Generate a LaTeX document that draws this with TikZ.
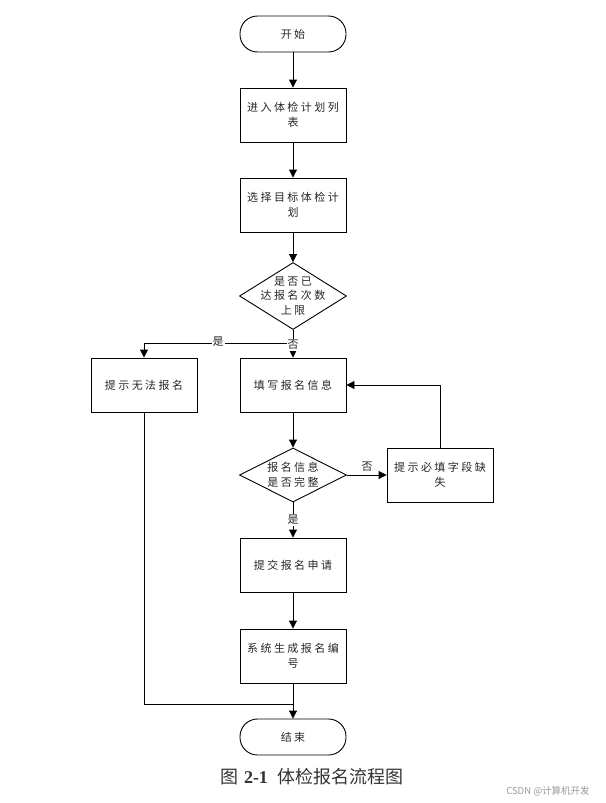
\documentclass[tikz,border=0pt]{standalone}
\usepackage{fontspec}
\setmainfont{Liberation Serif}
\newfontfamily\cjk[LetterSpace=22]{Noto Sans CJK SC}
\newfontfamily\cjkcap{Noto Sans CJK SC}
\usetikzlibrary{arrows.meta,shapes.geometric}
\begin{document}
\begin{tikzpicture}[x=1pt,y=-1pt,
  every node/.style={font=\cjk\fontsize{11}{14.5}\selectfont, text=black!85},
  box/.style={draw, line width=0.9pt, minimum width=106, minimum height=54, inner sep=0, align=center},
  term/.style={draw, line width=0.9pt, minimum width=106, minimum height=36, inner sep=0, rounded corners=17.5},
  dia/.style={draw, diamond, line width=0.9pt, minimum width=107, minimum height=67, inner sep=0},
  lbl/.style={align=center, inner sep=0},
  yn/.style={fill=white, inner sep=1pt},
  line/.style={line width=0.9pt},
  arr/.style={line width=0.9pt, -{Triangle[length=8pt,width=8pt]}}]
\useasboundingbox (0,0) rectangle (605,803);
\node[term] (start) at (293,34) {开始};
\node[box] (b1) at (293,115) {进入体检计划列\\表};
\node[box] (b2) at (293,205) {选择目标体检计\\划};
\node[dia] (d1) at (293,296) {};
\node[lbl] (d1t) at (293,296) {是否已\\达报名次数\\上限};
\node[box] (left) at (144,385) {提示无法报名};
\node[box] (fill) at (293,385) {填写报名信息};
\node[dia, minimum height=54] (d2) at (293,475) {};
\node[lbl] (d2t) at (293,475) {报名信息\\是否完整};
\node[box] (miss) at (440,475) {提示必填字段缺\\失};
\node[box] (b3) at (293,565) {提交报名申请};
\node[box] (b4) at (293,656) {系统生成报名编\\号};
\node[term] (end) at (293,737) {结束};
\coordinate (j1) at (293,343);
\coordinate (j2) at (293,704);

\draw[arr] (start) -- (b1);
\draw[arr] (b1) -- (b2);
\draw[arr] (b2) -- (d1);
\draw[line] (d1.south) -- (j1);
\draw[arr] (j1) -| (left.north);
\draw[arr] (j1) -- (fill.north);
\node[yn] (no1) at (293,345) {否};
\node[yn] (yes1) at (218,342) {是};
\draw[arr] (fill) -- (d2);
\draw[arr] (d2.east) -- (miss.west);
\node[inner sep=0] (no2) at (367,467) {否};
\draw[arr] (miss.north) |- (fill.east);
\draw[arr] (d2.south) -- (b3.north);
\node[yn] (yes2) at (293,520) {是};
\draw[arr] (b3) -- (b4);
\draw[line] (left.south) |- (j2);
\draw[arr] (b4) -- (end);
\node[inner sep=0, font=\fontsize{18}{20}\selectfont, text=black!80] (cap) at (312,777) {{\cjkcap 图}\hspace{6pt}\textbf{2-1}\hspace{10pt}{\cjkcap 体检报名流程图}};
\node[inner sep=0, font=\cjkcap\fontsize{9.5}{11}\selectfont, text=black!40] (wm) at (548,791) {CSDN @计算机开发};
\end{tikzpicture}
\end{document}
